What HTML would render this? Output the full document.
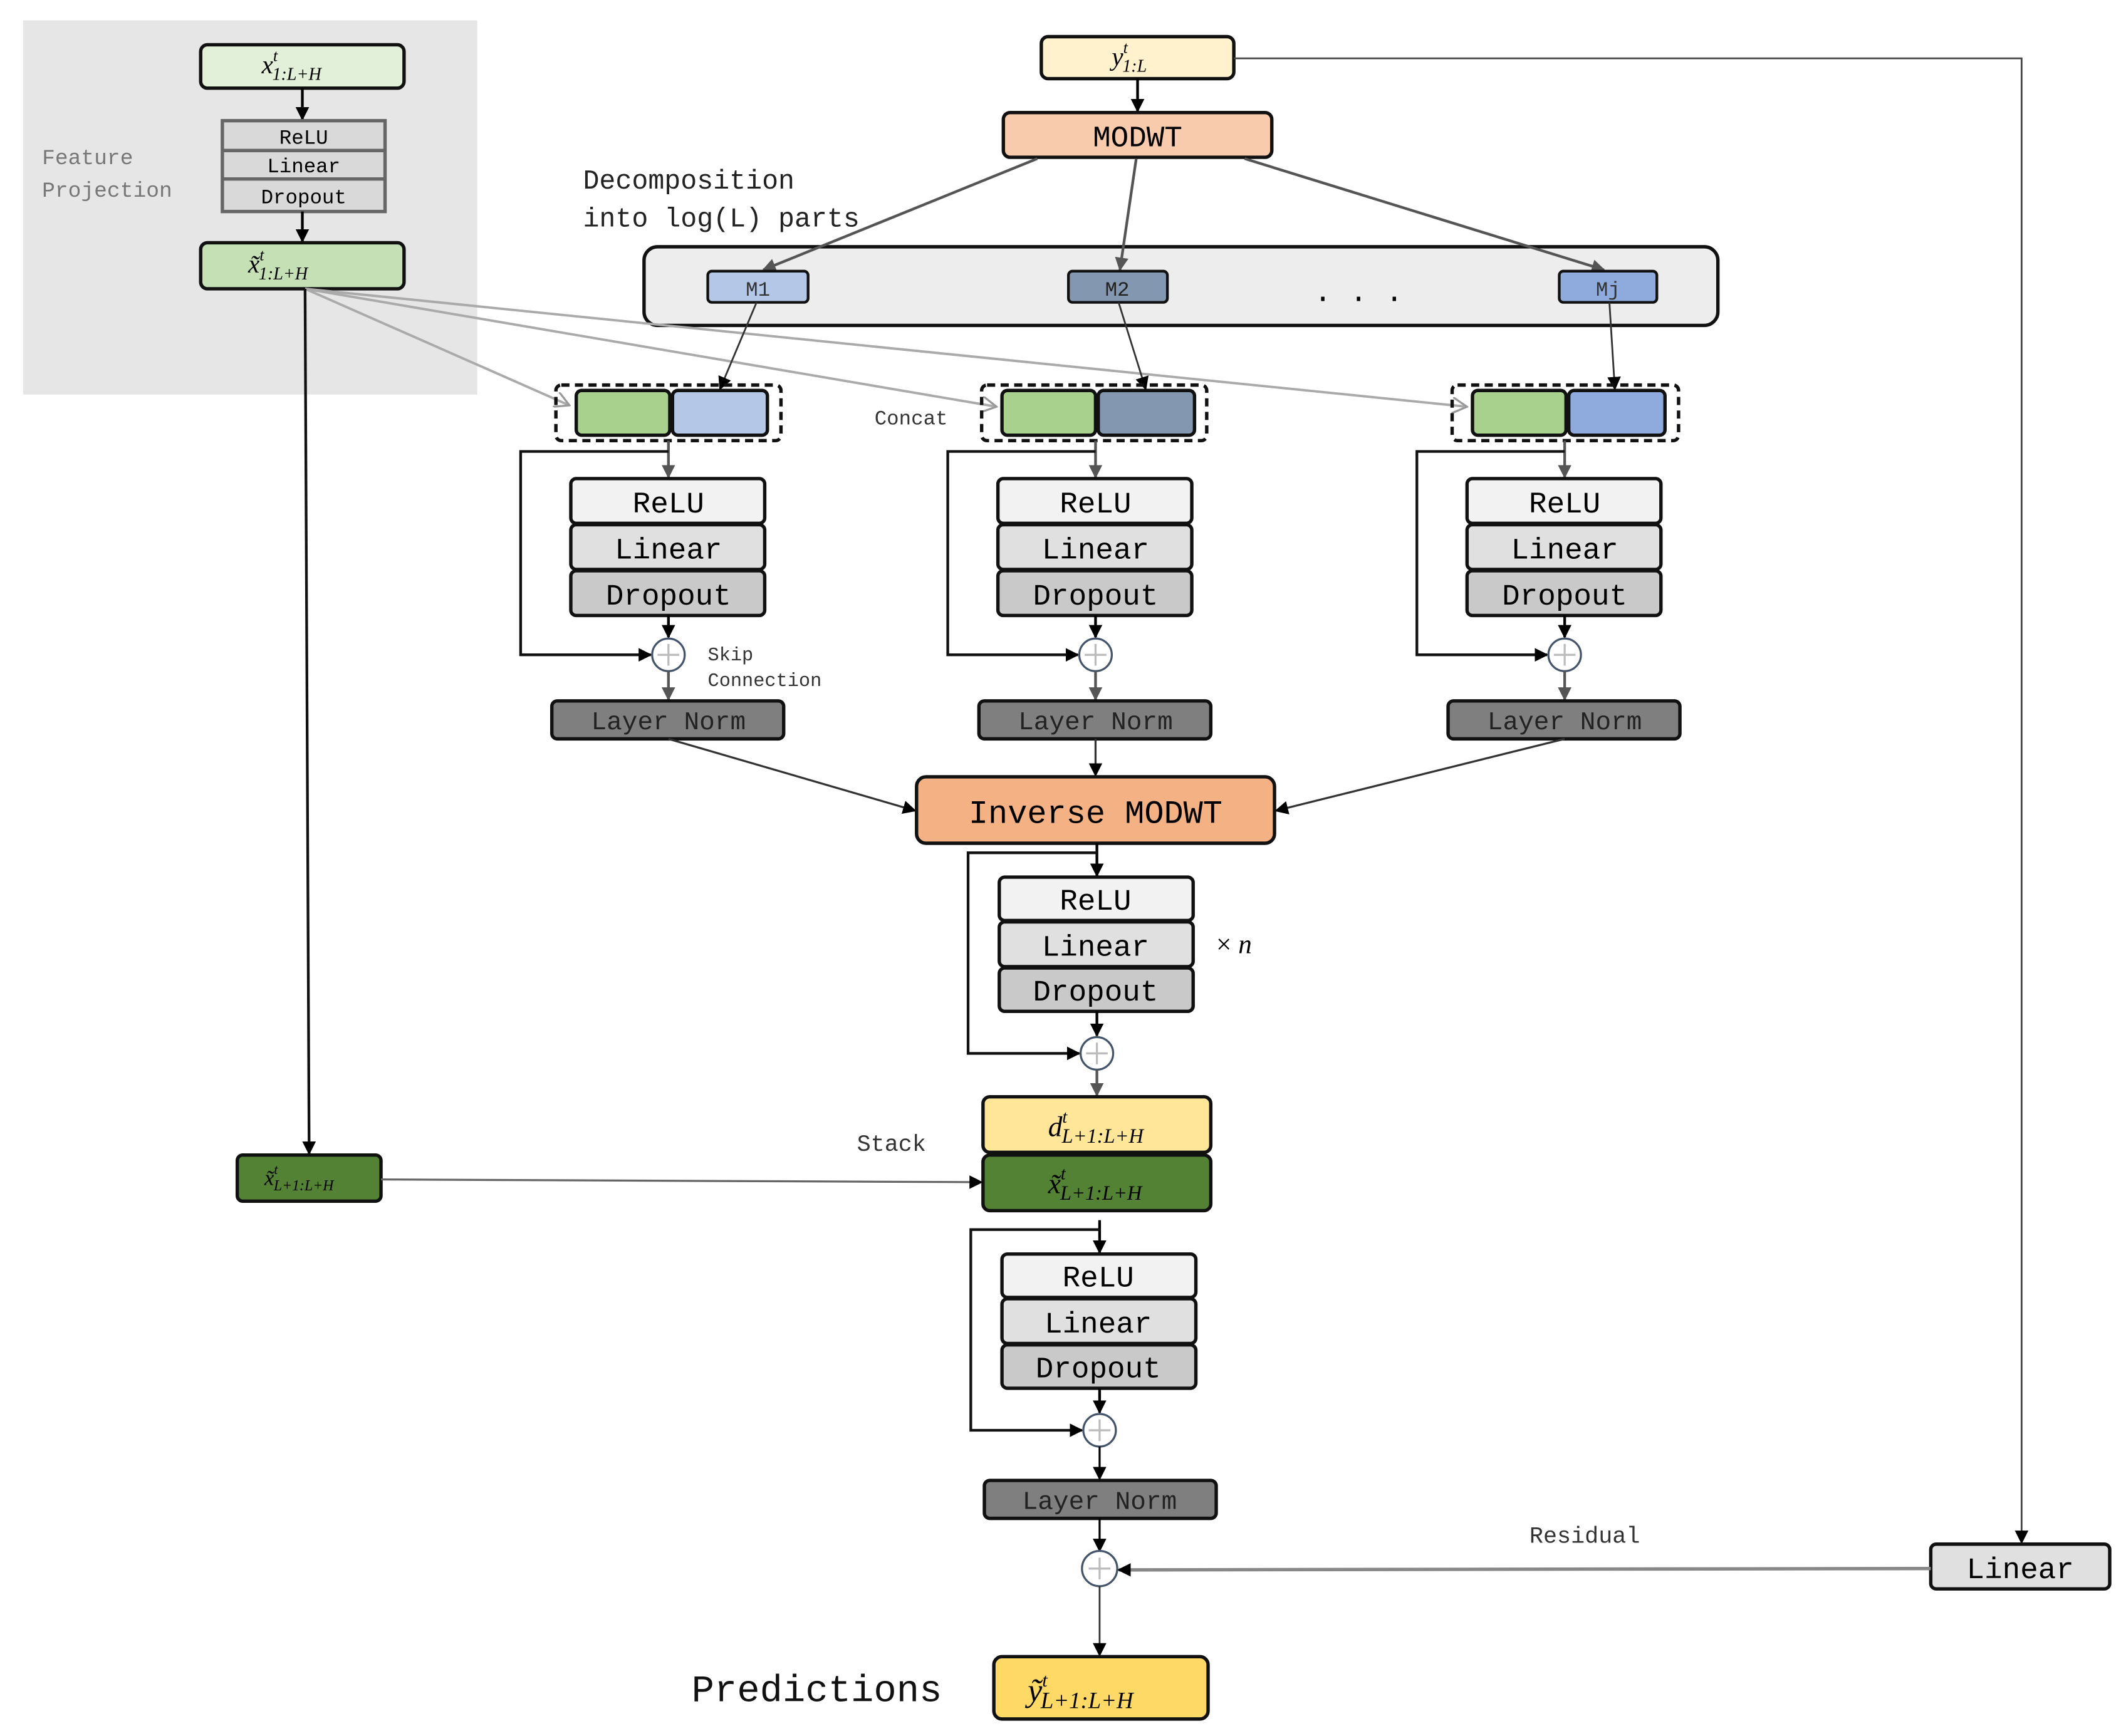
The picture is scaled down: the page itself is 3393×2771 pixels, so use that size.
<!DOCTYPE html>
<html><head><meta charset="utf-8"><style>
html,body{margin:0;padding:0;background:#fff}
svg{display:block}
.m{font-family:"Liberation Mono","DejaVu Sans Mono",monospace}
.s{font-family:"Liberation Serif",serif;font-style:italic}
</style></head><body>
<svg width="3393" height="2771" viewBox="0 0 1568 1280.5" xmlns="http://www.w3.org/2000/svg">
<defs>
<marker id="a" markerWidth="10" markerHeight="10" refX="9" refY="5" orient="auto" markerUnits="userSpaceOnUse"><path d="M0,0 L10,5 L0,10 z" fill="#000"/></marker>
<marker id="g" markerWidth="10" markerHeight="10" refX="9" refY="5" orient="auto" markerUnits="userSpaceOnUse"><path d="M0,0 L10,5 L0,10 z" fill="#555"/></marker>
<marker id="l" markerWidth="12" markerHeight="12" refX="11" refY="6" orient="auto" markerUnits="userSpaceOnUse"><path d="M0,0 L11,6 L0,12" fill="none" stroke="#999" stroke-width="1.5"/></marker>
</defs>
<rect width="1568" height="1280.5" fill="#fff"/>
<!-- feature projection panel -->
<rect x="17" y="15" width="335" height="276" fill="#e6e6e6"/>
<text class="m" x="31" y="121" font-size="16" fill="#777">Feature</text>
<text class="m" x="31" y="145" font-size="16" fill="#777">Projection</text>
<rect x="148" y="33" width="150" height="32" rx="5" fill="#e2efd9" stroke="#111" stroke-width="2.5"/>
<text class="s" x="193" y="54" font-size="19">x<tspan font-size="12" dy="-9">t</tspan><tspan font-size="13" dx="-4" dy="14">1:L+H</tspan></text>
<line x1="223" y1="65" x2="223" y2="88" stroke="#000" stroke-width="2" marker-end="url(#a)"/>
<rect x="164" y="89" width="120" height="67" fill="#d9d9d9" stroke="#666" stroke-width="2.5"/>
<line x1="164" y1="111" x2="284" y2="111" stroke="#666" stroke-width="2.5"/>
<line x1="164" y1="132" x2="284" y2="132" stroke="#666" stroke-width="2.5"/>
<text class="m" x="224" y="106" font-size="15" text-anchor="middle">ReLU</text>
<text class="m" x="224" y="127" font-size="15" text-anchor="middle">Linear</text>
<text class="m" x="224" y="150" font-size="15" text-anchor="middle">Dropout</text>
<line x1="223" y1="156" x2="223" y2="178" stroke="#000" stroke-width="2" marker-end="url(#a)"/>
<rect x="148" y="179" width="150" height="34" rx="5" fill="#c5e0b4" stroke="#111" stroke-width="2.5"/>
<text class="s" x="183" y="201" font-size="19">x̃<tspan font-size="12" dy="-9">t</tspan><tspan font-size="13" dx="-4" dy="14">1:L+H</tspan></text>
<!-- top -->
<rect x="768" y="27" width="142" height="31" rx="5" fill="#fff2cc" stroke="#111" stroke-width="2.5"/>
<text class="s" x="820" y="48" font-size="19">y<tspan font-size="12" dy="-9">t</tspan><tspan font-size="13" dx="-4" dy="14">1:L</tspan></text>
<line x1="839" y1="58" x2="839" y2="82" stroke="#000" stroke-width="2" marker-end="url(#a)"/>
<rect x="740" y="83" width="198" height="33" rx="5" fill="#f8cbad" stroke="#111" stroke-width="2.5"/>
<text class="m" x="839" y="108" font-size="22" text-anchor="middle">MODWT</text>
<text class="m" x="430" y="139" font-size="20" fill="#222">Decomposition</text>
<text class="m" x="430" y="167" font-size="20" fill="#222">into log(L) parts</text>
<polyline points="910,43 1491,43 1491,1138" fill="none" stroke="#444" stroke-width="1.3" marker-end="url(#a)"/>
<rect x="475" y="182" width="792" height="58" rx="10" fill="#ededed" stroke="#111" stroke-width="2.5"/>
<line x1="765" y1="117" x2="563" y2="199" stroke="#555" stroke-width="2" marker-end="url(#g)"/>
<line x1="838" y1="117" x2="826" y2="199" stroke="#555" stroke-width="2" marker-end="url(#g)"/>
<line x1="918" y1="117" x2="1183" y2="199" stroke="#555" stroke-width="2" marker-end="url(#g)"/>
<rect x="522" y="200" width="74" height="23" rx="3" fill="#b4c7e7" stroke="#111" stroke-width="2"/>
<text class="m" x="559" y="218" font-size="15" text-anchor="middle" fill="#333">M1</text>
<rect x="788" y="200" width="73" height="23" rx="3" fill="#8497b0" stroke="#111" stroke-width="2"/>
<text class="m" x="824" y="218" font-size="15" text-anchor="middle" fill="#222">M2</text>
<rect x="1150" y="200" width="72" height="23" rx="3" fill="#8faadc" stroke="#111" stroke-width="2"/>
<text class="m" x="1186" y="218" font-size="15" text-anchor="middle" fill="#333">Mj</text>
<text class="m" x="1002" y="222" font-size="22" text-anchor="middle">. . .</text>
<!-- x tilde fan -->
<line x1="225" y1="213" x2="420" y2="299" stroke="#aaa" stroke-width="1.8" marker-end="url(#l)"/>
<line x1="225" y1="213" x2="735" y2="300" stroke="#aaa" stroke-width="1.8" marker-end="url(#l)"/>
<line x1="225" y1="213" x2="1082" y2="300" stroke="#aaa" stroke-width="1.8" marker-end="url(#l)"/>
<line x1="558" y1="223" x2="531" y2="287" stroke="#333" stroke-width="1.3" marker-end="url(#a)"/>
<line x1="825" y1="223" x2="845" y2="287" stroke="#333" stroke-width="1.3" marker-end="url(#a)"/>
<line x1="1187" y1="223" x2="1191" y2="287" stroke="#333" stroke-width="1.3" marker-end="url(#a)"/>
<text class="m" x="645" y="313" font-size="15" fill="#333">Concat</text>
<!-- concat groups -->
<g stroke-width="2.5">
<rect x="410" y="284" width="166" height="41" rx="4" fill="none" stroke="#111" stroke-dasharray="6,4"/>
<rect x="425" y="288" width="69" height="33" rx="4" fill="#a9d18e" stroke="#111"/>
<rect x="496" y="288" width="70" height="33" rx="4" fill="#b4c7e7" stroke="#111"/>
<rect x="724" y="284" width="166" height="41" rx="4" fill="none" stroke="#111" stroke-dasharray="6,4"/>
<rect x="739" y="288" width="69" height="33" rx="4" fill="#a9d18e" stroke="#111"/>
<rect x="810" y="288" width="71" height="33" rx="4" fill="#8497b0" stroke="#111"/>
<rect x="1071" y="284" width="167" height="41" rx="4" fill="none" stroke="#111" stroke-dasharray="6,4"/>
<rect x="1086" y="288" width="69" height="33" rx="4" fill="#a9d18e" stroke="#111"/>
<rect x="1157" y="288" width="71" height="33" rx="4" fill="#8faadc" stroke="#111"/>
</g>
<!-- blocks -->
<g id="b1">
<line x1="493" y1="325" x2="493" y2="352" stroke="#555" stroke-width="2" marker-end="url(#g)"/>
<polyline points="493,333 384,333 384,483 480,483" fill="none" stroke="#111" stroke-width="2" marker-end="url(#a)"/>
<rect x="421" y="353" width="143" height="33" rx="4" fill="#f2f2f2" stroke="#111" stroke-width="2.5"/>
<rect x="421" y="387" width="143" height="33" rx="4" fill="#e0e0e0" stroke="#111" stroke-width="2.5"/>
<rect x="421" y="421" width="143" height="33" rx="4" fill="#c9c9c9" stroke="#111" stroke-width="2.5"/>
<text class="m" x="493" y="378" font-size="22" text-anchor="middle">ReLU</text>
<text class="m" x="493" y="412" font-size="22" text-anchor="middle">Linear</text>
<text class="m" x="493" y="446" font-size="22" text-anchor="middle">Dropout</text>
<line x1="493" y1="454" x2="493" y2="470" stroke="#000" stroke-width="2" marker-end="url(#a)"/>
<circle cx="493" cy="483" r="12" fill="#fff" stroke="#44546a" stroke-width="1.5"/>
<path d="M485,483h16M493,475v16" stroke="#bbb" stroke-width="1.5"/>
<line x1="493" y1="495" x2="493" y2="516" stroke="#555" stroke-width="2" marker-end="url(#g)"/>
<rect x="407" y="517" width="171" height="28" rx="4" fill="#7f7f7f" stroke="#111" stroke-width="2.5"/>
<text class="m" x="493" y="538" font-size="19" text-anchor="middle" fill="#222">Layer Norm</text>
</g>
<use href="#b1" transform="translate(315,0)"/>
<use href="#b1" transform="translate(661,0)"/>
<text class="m" x="522" y="487" font-size="14" fill="#333">Skip</text>
<text class="m" x="522" y="506" font-size="14" fill="#333">Connection</text>
<!-- inverse -->
<line x1="493" y1="545" x2="675" y2="598" stroke="#333" stroke-width="1.5" marker-end="url(#a)"/>
<line x1="808" y1="545" x2="808" y2="572" stroke="#333" stroke-width="1.5" marker-end="url(#a)"/>
<line x1="1154" y1="545" x2="941" y2="598" stroke="#333" stroke-width="1.5" marker-end="url(#a)"/>
<rect x="676" y="573" width="264" height="49" rx="7" fill="#f4b183" stroke="#111" stroke-width="2.5"/>
<text class="m" x="808" y="607" font-size="24" text-anchor="middle">Inverse MODWT</text>
<g id="b2">
<line x1="809" y1="622" x2="809" y2="646" stroke="#000" stroke-width="2" marker-end="url(#a)"/>
<polyline points="809,629 714,629 714,777 796,777" fill="none" stroke="#111" stroke-width="2" marker-end="url(#a)"/>
<rect x="737" y="647" width="143" height="32" rx="4" fill="#f2f2f2" stroke="#111" stroke-width="2.5"/>
<rect x="737" y="680" width="143" height="33" rx="4" fill="#e0e0e0" stroke="#111" stroke-width="2.5"/>
<rect x="737" y="714" width="143" height="32" rx="4" fill="#c9c9c9" stroke="#111" stroke-width="2.5"/>
<text class="m" x="808" y="671" font-size="22" text-anchor="middle">ReLU</text>
<text class="m" x="808" y="705" font-size="22" text-anchor="middle">Linear</text>
<text class="m" x="808" y="738" font-size="22" text-anchor="middle">Dropout</text>
<line x1="809" y1="746" x2="809" y2="764" stroke="#000" stroke-width="2" marker-end="url(#a)"/>
<circle cx="809" cy="777" r="12" fill="#fff" stroke="#44546a" stroke-width="1.5"/>
<path d="M801,777h16M809,769v16" stroke="#bbb" stroke-width="1.5"/>
</g>
<text x="897" y="703" font-size="20" font-family="Liberation Serif,serif">× <tspan font-style="italic">n</tspan></text>
<line x1="809" y1="789" x2="809" y2="808" stroke="#555" stroke-width="2" marker-end="url(#g)"/>
<rect x="725" y="809" width="168" height="41" rx="5" fill="#ffe699" stroke="#111" stroke-width="2.5"/>
<text class="s" x="773" y="838" font-size="21">d<tspan font-size="13" dy="-10">t</tspan><tspan font-size="15" dx="-4" dy="15">L+1:L+H</tspan></text>
<rect x="725" y="852" width="168" height="41" rx="5" fill="#548235" stroke="#111" stroke-width="2.5"/>
<text class="s" x="773" y="880" font-size="21">x̃<tspan font-size="13" dy="-10">t</tspan><tspan font-size="15" dx="-4" dy="15">L+1:L+H</tspan></text>
<text class="m" x="632" y="849" font-size="17" fill="#333">Stack</text>
<line x1="225" y1="213" x2="228" y2="851" stroke="#111" stroke-width="2" marker-end="url(#a)"/>
<rect x="175" y="852" width="106" height="34" rx="4" fill="#548235" stroke="#111" stroke-width="2.5"/>
<text class="s" x="195" y="874" font-size="16">x̃<tspan font-size="10" dy="-8">t</tspan><tspan font-size="11" dx="-3" dy="12">L+1:L+H</tspan></text>
<line x1="281" y1="870" x2="724" y2="872" stroke="#666" stroke-width="1.5" marker-end="url(#a)"/>
<use href="#b2" transform="translate(2,278)"/>
<line x1="811" y1="1067" x2="811" y2="1091" stroke="#000" stroke-width="1.5" marker-end="url(#a)"/>
<rect x="726" y="1092" width="171" height="28" rx="4" fill="#7f7f7f" stroke="#111" stroke-width="2.5"/>
<text class="m" x="811" y="1113" font-size="19" text-anchor="middle" fill="#222">Layer Norm</text>
<line x1="811" y1="1120" x2="811" y2="1144" stroke="#000" stroke-width="1.5" marker-end="url(#a)"/>
<circle cx="811" cy="1157" r="13" fill="#fff" stroke="#44546a" stroke-width="1.5"/>
<path d="M803,1157h16M811,1149v16" stroke="#bbb" stroke-width="1.5"/>
<rect x="1424" y="1139" width="132" height="33" rx="4" fill="#e0e0e0" stroke="#111" stroke-width="2.5"/>
<text class="m" x="1490" y="1164" font-size="22" text-anchor="middle">Linear</text>
<line x1="1424" y1="1157" x2="825" y2="1158" stroke="#888" stroke-width="2.5" marker-end="url(#a)"/>
<text class="m" x="1128" y="1138" font-size="17" fill="#333">Residual</text>
<line x1="811" y1="1170" x2="811" y2="1221" stroke="#333" stroke-width="1.3" marker-end="url(#a)"/>
<text class="m" x="510" y="1255" font-size="28" fill="#111">Predictions</text>
<rect x="733" y="1222" width="158" height="46" rx="6" fill="#ffd966" stroke="#111" stroke-width="2.5"/>
<text class="s" x="758" y="1255" font-size="24">ỹ<tspan font-size="14" dy="-11">t</tspan><tspan font-size="17" dx="-5" dy="16">L+1:L+H</tspan></text>
</svg>
</body></html>
